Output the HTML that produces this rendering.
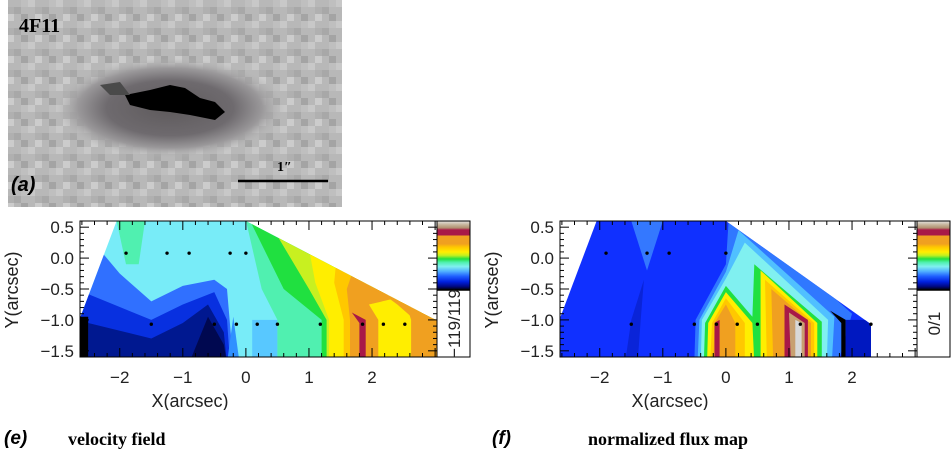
<!DOCTYPE html>
<html><head><meta charset="utf-8"><style>
body{margin:0;background:#fff;width:951px;height:457px;overflow:hidden;position:relative;font-family:"Liberation Sans",sans-serif}
.t{position:absolute;white-space:nowrap}
</style></head><body>
<svg id="img" style="position:absolute;left:0;top:0" width="350" height="210">
<defs>
<radialGradient id="gal" cx="0.5" cy="0.5" r="0.5"><stop offset="0" stop-color="#5e5a5c"/><stop offset="0.55" stop-color="#6e6a6e"/><stop offset="0.8" stop-color="#9a989a"/><stop offset="1" stop-color="#b8b8b8" stop-opacity="0"/></radialGradient>
<pattern id="px" width="28" height="21" patternUnits="userSpaceOnUse">
<rect width="28" height="21" fill="#b8b8b8"/>
<rect x="0" y="0" width="7" height="7" fill="#c8c8c8"/><rect x="14" y="7" width="7" height="7" fill="#a8a8a8"/>
<rect x="7" y="14" width="7" height="7" fill="#cccccc"/><rect x="21" y="14" width="7" height="7" fill="#a4a4a4"/>
<rect x="21" y="0" width="7" height="7" fill="#bfbfbf"/><rect x="7" y="7" width="7" height="7" fill="#b0b0b0"/>
</pattern>
</defs>
<rect x="8" y="0" width="334" height="207" fill="url(#px)"/>
<ellipse cx="170" cy="108" rx="115" ry="50" fill="url(#gal)"/>
<polygon points="125,95 150,90 170,85 185,88 200,98 215,102 225,112 215,120 190,115 170,112 150,110 130,105" fill="#000"/>
<polygon points="100,85 120,82 130,95 110,95" fill="#4a4a4a"/>
<line x1="238" y1="181" x2="328" y2="181" stroke="#000" stroke-width="2.5"/>
</svg>
<div class="t" style="left:19px;top:15px;font:bold 20px 'Liberation Serif',serif">4F11</div>
<div class="t" style="left:11px;top:174px;font:italic bold 20px 'Liberation Sans',sans-serif">(a)</div>
<div class="t" style="left:277px;top:160px;font:bold 14px 'Liberation Serif',serif">1″</div>

<svg id="c1" style="position:absolute;left:0;top:210px" width="480" height="200"></svg>
<svg id="c2" style="position:absolute;left:480px;top:210px" width="471" height="200"></svg>

<div class="t" style="left:4px;top:428px;font:italic bold 19px 'Liberation Sans',sans-serif">(e)</div>
<div class="t" style="left:68px;top:429px;font:bold 18px 'Liberation Serif',serif">velocity field</div>
<div class="t" style="left:492px;top:428px;font:italic bold 19px 'Liberation Sans',sans-serif">(f)</div>
<div class="t" style="left:588px;top:429px;font:bold 18px 'Liberation Serif',serif">normalized flux map</div>

<script>
const xTicks=[-2,-1,0,1,2];
const yTicks=[0.5,0.0,-0.5,-1.0,-1.5];
const yTickLabels=["0.5","0.0","\u22120.5","\u22121.0","\u22121.5"];
const xTickLabels=["\u22122","\u22121","0","1","2"];
const velColors=["#78ecf8","#50f0b0","#3070ff","#0830e0","#001890","#000850","#000000","#3090ff","#58c8ff","#50f0b0","#20e040","#c8f020","#ffee00","#ffc800","#f0a020","#ffee00","#f0a020","#a81848"];
const velRegions=[
[[-2.7,-1.7],[-2.7,0.7],[3.1,0.7],[3.1,-1.7]],
[[-2.05,0.6],[-1.6,0.6],[-1.7,-0.1],[-1.9,-0.1]],
[[-2.7,-1.7],[-2.7,0.6],[-2.0,-0.25],[-1.5,-0.7],[-1.0,-0.45],[-0.5,-0.35],[-0.3,-0.5],[-0.2,-1.7]],
[[-2.7,-1.7],[-2.7,-0.5],[-1.5,-1.0],[-1.0,-0.75],[-0.5,-0.55],[-0.3,-1.0],[-0.25,-1.7]],
[[-2.5,-1.7],[-2.5,-1.05],[-1.5,-1.3],[-1.0,-1.05],[-0.6,-0.75],[-0.35,-1.2],[-0.3,-1.7]],
[[-0.9,-1.7],[-0.6,-0.95],[-0.35,-1.4],[-0.3,-1.7]],
[[-2.7,-1.7],[-2.7,-0.95],[-2.5,-0.95],[-2.5,-1.7]],
[[-0.3,-1.7],[-0.2,-0.95],[-0.1,-1.7]],
[[0.1,-1.7],[0.1,-1.0],[0.5,-1.0],[0.5,-1.7]],
[[-0.02,0.7],[3.1,0.7],[3.1,-1.7],[0.5,-1.7],[0.5,-1.0],[0.25,-0.5]],
[[0.02,0.7],[3.1,0.7],[3.1,-1.7],[1.2,-1.7],[1.2,-1.0],[0.6,-0.5]],
[[0.3,0.7],[3.1,0.7],[3.1,-1.7],[1.28,-1.7],[1.28,-1.0],[1.0,-0.5]],
[[0.9,0.7],[3.1,0.7],[3.1,-1.7],[1.32,-1.7],[1.32,-1.0],[1.1,-0.4]],
[[1.5,0.7],[3.1,0.7],[3.1,-1.7],[1.55,-1.7],[1.55,-1.0],[1.4,-0.4]],
[[2.0,0.7],[3.1,0.7],[3.1,-1.7],[1.65,-1.7],[1.65,-1.0],[1.6,-0.5]],
[[2.1,-1.7],[2.1,-1.0],[1.95,-0.75],[2.5,-0.62],[2.62,-1.0],[2.62,-1.7]],
[[2.0,-0.45],[3.1,-1.0],[3.1,-1.7],[2.68,-1.7],[2.68,-1.0],[2.4,-0.75]],
[[1.68,-0.88],[1.9,-1.0],[1.9,-1.7],[1.8,-1.7],[1.8,-1.05]]
];
const velShape=[[-2.63,-1.6],[-2.63,-0.97],[-2.05,0.6],[0,0.6],[2.97,-0.98],[3.03,-1.0],[3.03,-1.6]];
const velDotsX=[-1.9,-1.25,-0.9,-0.25,0.0,-1.5,-0.5,-0.15,0.18,0.5,1.18,1.85,2.18,2.52];
const velDotsY=[0.08,0.08,0.08,0.08,0.08,-1.07,-1.07,-1.07,-1.07,-1.07,-1.07,-1.07,-1.07,-1.07];
const fluxColors=["#1030ff","#3478ff","#0a24d8","#3078ff","#50c0ff","#80f0f0","#20e040","#ffee00","#ffee00","#ffc800","#f0a020","#a81848","#ffc800","#f0a020","#a81848","#c8a070","#d8d8d8","#000000","#0018c0"];
const fluxRegions=[
[[-2.7,-1.7],[-2.7,0.7],[3.1,0.7],[3.1,-1.7]],
[[-1.5,0.6],[-1.0,0.6],[-1.25,-0.2]],
[[-1.6,-1.7],[-1.5,-1.0],[-1.3,-0.35],[-1.35,-1.0],[-1.4,-1.7]],
[[-0.5,-1.7],[-0.48,-1.0],[0,-0.1],[0.05,0.7],[0.25,0.7],[2.0,-0.9],[1.78,-1.7]],
[[-0.45,-1.7],[-0.42,-1.0],[0,-0.22],[0.2,0.45],[1.72,-0.95],[1.68,-1.7]],
[[-0.4,-1.7],[-0.38,-1.0],[0,-0.33],[0.3,0.25],[1.62,-1.0],[1.6,-1.7]],
[[-0.35,-1.7],[-0.33,-1.05],[0,-0.45],[0.42,-0.95],[0.45,-0.1],[1.52,-1.03],[1.52,-1.7]],
[[-0.3,-1.7],[-0.28,-1.05],[0,-0.55],[0.42,-1.05],[0.45,-1.7]],
[[0.55,-1.7],[0.55,-0.2],[1.45,-1.05],[1.45,-1.7]],
[[-0.25,-1.7],[-0.22,-1.05],[0,-0.65],[0.3,-1.05],[0.3,-1.7]],
[[-0.2,-1.7],[-0.18,-1.05],[0,-0.75],[0.15,-1.05],[0.15,-1.7]],
[[-0.18,-1.7],[-0.18,-1.05],[-0.1,-1.0],[-0.1,-1.7]],
[[0.65,-1.7],[0.62,-0.35],[1.4,-1.05],[1.4,-1.7]],
[[0.75,-1.7],[0.72,-0.5],[1.35,-1.05],[1.35,-1.7]],
[[0.93,-1.7],[0.93,-0.75],[1.3,-1.0],[1.3,-1.7]],
[[1.03,-1.7],[1.0,-0.88],[1.25,-1.05],[1.25,-1.7]],
[[1.1,-1.7],[1.1,-1.0],[1.2,-1.05],[1.2,-1.7]],
[[1.83,-1.7],[1.83,-1.05],[1.65,-0.85],[1.9,-1.0],[1.9,-1.7]],
[[1.9,-1.7],[1.9,-1.0],[2.4,-1.0],[2.4,-1.7]]
];
const fluxShape=[[-2.63,-1.6],[-2.63,-0.97],[-2.05,0.6],[0,0.6],[2.3,-1.07],[2.3,-1.6]];
const fluxDotsX=[-1.9,-1.25,-0.9,0.0,-1.5,-0.5,-0.15,0.18,0.5,1.18,2.3];
const fluxDotsY=[0.08,0.08,0.08,0.08,-1.07,-1.07,-1.07,-1.07,-1.07,-1.07,-1.07];

const NS="http://www.w3.org/2000/svg";
const X0=80,X1=437,XMIN=-2.63,XMAX=3.03,Y0=11,Y1=147,YMAX=0.6,YMIN=-1.6;
function sx(v){return X0+(v-XMIN)/(XMAX-XMIN)*(X1-X0);}
function sy(v){return Y0+(YMAX-v)/(YMAX-YMIN)*(Y1-Y0);}
function mk(tag,attrs,parent){const e=document.createElementNS(NS,tag);for(const k in attrs)e.setAttribute(k,attrs[k]);parent.appendChild(e);return e;}
function pts(a){return a.map(p=>sx(p[0]).toFixed(1)+","+sy(p[1]).toFixed(1)).join(" ");}

function build(svg,id,colors,regions,shape,dx,dy,cbText,cbName){
  const defs=mk("defs",{},svg);
  const cp=mk("clipPath",{id:"clip"+id},defs);
  mk("polygon",{points:pts(shape)},cp);
  const g=mk("g",{"clip-path":"url(#clip"+id+")"},svg);
  regions.forEach((r,i)=>{
    const p=mk("polygon",{points:pts(r),fill:colors[i]},g);
    
    
  });
  dx.forEach((v,i)=>{
    const c=mk("circle",{cx:sx(v),cy:sy(dy[i]),r:1.7,fill:"#000"},svg);
    
    
  });
  const fr=mk("rect",{x:X0,y:Y0,width:X1-X0,height:Y1-Y0,fill:"none",stroke:"#000","stroke-width":1},svg);
  
  
  for(let k=-16;k<=6;k++){const v=k/10,y=sy(v),L=(k%5===0)?9:4;
    mk("line",{x1:X0,y1:y,x2:X0+L,y2:y,stroke:"#000"},svg);
    mk("line",{x1:X1,y1:y,x2:X1-L,y2:y,stroke:"#000"},svg);}
  for(let k=-13;k<=15;k++){const v=k/5,x=sx(v),L=(k%5===0)?9:4;
    mk("line",{x1:x,y1:Y1,x2:x,y2:Y1-L,stroke:"#000"},svg);
    mk("line",{x1:x,y1:Y0,x2:x,y2:Y0+L,stroke:"#000"},svg);}
  yTicks.forEach((v,i)=>{
    const t=mk("text",{x:X0-6,y:sy(v)+6,"text-anchor":"end","font-size":17,fill:"#222","font-family":"Liberation Sans, sans-serif"},svg);
    t.textContent=yTickLabels[i];
    
    
  });
  xTicks.forEach((v,i)=>{
    const t=mk("text",{x:sx(v),y:Y1+26,"text-anchor":"middle","font-size":17,fill:"#222","font-family":"Liberation Sans, sans-serif"},svg);
    t.textContent=xTickLabels[i];
    
    
  });
  const xt=mk("text",{x:190,y:197,"text-anchor":"middle","font-size":18,fill:"#222","font-family":"Liberation Sans, sans-serif"},svg);
  xt.textContent="X(arcsec)";
  
  
  const yt=mk("text",{x:0,y:0,"text-anchor":"middle","font-size":18,fill:"#222","font-family":"Liberation Sans, sans-serif",transform:"translate(18,80) rotate(-90)"},svg);
  yt.textContent="Y(arcsec)";
  
  
  const lg=mk("linearGradient",{id:"cb"+id,x1:0,y1:0,x2:0,y2:1},defs);
  const stops=[[0,"#e4e4e4"],[0.05,"#c8b8a0"],[0.1,"#b09070"],[0.13,"#a81848"],[0.2,"#a81848"],[0.22,"#f0a020"],[0.33,"#f0a020"],[0.38,"#ffc800"],[0.45,"#ffee00"],[0.5,"#c0f020"],[0.55,"#20e040"],[0.6,"#50f0b0"],[0.66,"#80f0f0"],[0.73,"#50b0ff"],[0.8,"#2060ff"],[0.88,"#0020e0"],[0.95,"#000880"],[1,"#000"]];
  stops.forEach(s=>mk("stop",{offset:s[0],"stop-color":s[1]},lg));
  const cb=mk("rect",{x:X1,y:Y0,width:33,height:69,fill:"url(#cb"+id+")"},svg);
  
  
  mk("rect",{x:X1,y:Y0,width:33,height:Y1-Y0,fill:"none",stroke:"#000"},svg);
  mk("line",{x1:X1,y1:Y0+69,x2:X1+33,y2:Y0+69,stroke:"#000","stroke-width":1.5},svg);
  const ct=mk("text",{x:0,y:0,"text-anchor":"middle","font-size":17,fill:"#222","font-family":"Liberation Sans, sans-serif",transform:"translate("+(X1+23)+","+((Y0+69+Y1)/2)+") rotate(-90)"},svg);
  ct.textContent=cbText;
  
  
}
build(document.getElementById("c1"),"1",velColors,velRegions,velShape,velDotsX,velDotsY,"\u2212119/119","velocity-colorbar");
build(document.getElementById("c2"),"2",fluxColors,fluxRegions,fluxShape,fluxDotsX,fluxDotsY,"0/1","flux-colorbar");
</script>
</body></html>
